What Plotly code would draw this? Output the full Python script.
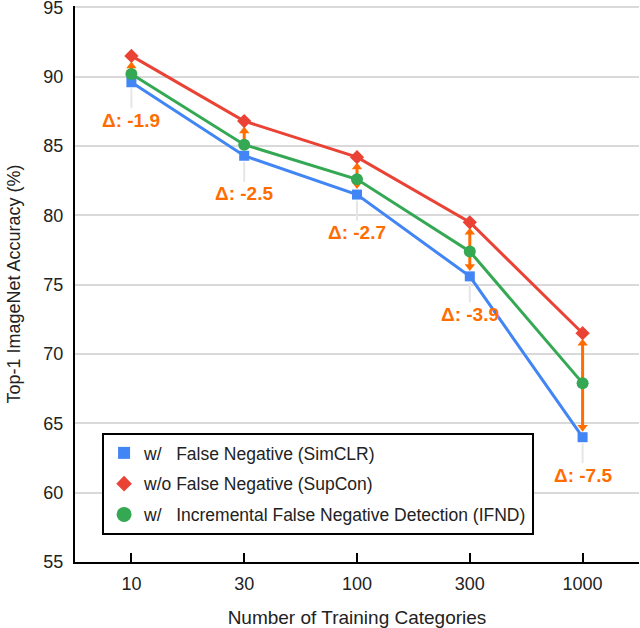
import plotly.graph_objects as go

categories = ["10", "30", "100", "300", "1000"]
simclr = [89.6, 84.3, 81.5, 75.6, 64.0]
supcon = [91.5, 86.8, 84.2, 79.5, 71.5]
ifnd = [90.2, 85.1, 82.6, 77.4, 67.9]
y_ticks = [55, 60, 65, 70, 75, 80, 85, 90, 95]

names = ["w/\u00a0\u00a0\u00a0False Negative (SimCLR)",
         "w/o False Negative (SupCon)",
         "w/\u00a0\u00a0\u00a0Incremental False Negative Detection (IFND)"]

BLUE, RED, GREEN, ORANGE = "#4285F4", "#EA4335", "#34A853", "#FF6D01"
FONT = "Arial, Liberation Sans, sans-serif"
HEAD = 0.72  # arrowhead offset from marker centre (data units)

fig = go.Figure()

# orange double arrows (drawn under the series markers)
ax_, ay_ = [], []
hx, hy, hs = [], [], []
for c, b, r in zip(categories, simclr, supcon):
    ax_ += [c, c, None]
    ay_ += [b + HEAD, r - HEAD, None]
    hx += [c, c]
    hy += [r - HEAD, b + HEAD]
    hs += ["triangle-up", "triangle-down"]
fig.add_trace(go.Scatter(x=ax_, y=ay_, mode="lines", line=dict(color=ORANGE, width=3),
                         showlegend=False, hoverinfo="skip"))
fig.add_trace(go.Scatter(x=hx, y=hy, mode="markers",
                         marker=dict(symbol=hs, size=9, color=ORANGE), showlegend=False,
                         hoverinfo="skip"))

series = [(simclr, BLUE, "square", 10, 12), (supcon, RED, "diamond", 11, 12),
          (ifnd, GREEN, "circle", 12, 15)]
for (vals, col, sym, sz, lsz), nm in zip(series, names):
    fig.add_trace(go.Scatter(x=categories, y=vals, mode="lines+markers",
                             line=dict(color=col, width=3),
                             marker=dict(symbol=sym, size=sz, color=col),
                             showlegend=False))
for k, ((vals, col, sym, sz, lsz), nm) in enumerate(zip(series, names)):
    fig.add_trace(go.Scatter(x=[None], y=[None], mode="markers", name=nm,
                             legendgroup=f"g{k}",
                             marker=dict(symbol=sym, size=lsz, color=col)))

for i, (b, r) in enumerate(zip(simclr, supcon)):
    fig.add_annotation(x=i, y=b, xref="x", yref="y", text=f"<b>Δ: {b - r:.1f}</b>",
                       showarrow=True, arrowhead=0, arrowwidth=2, arrowcolor="#e6e6e6",
                       ax=0, ay=38, standoff=6,
                       font=dict(family=FONT, size=19, color=ORANGE))

fig.update_layout(
    width=640, height=628,
    margin=dict(l=75, r=1, t=6, b=66, autoexpand=False),
    paper_bgcolor="white", plot_bgcolor="white",
    font=dict(family=FONT, size=18, color="#222222"),
    legend=dict(x=0.048, y=0.232, xanchor="left", yanchor="top",
                bgcolor="white", bordercolor="black", borderwidth=2,
                font=dict(family=FONT, size=17.5, color="#222222"),
                tracegroupgap=5),
    showlegend=True,
)
fig.update_xaxes(type="category", range=[-0.5, 4.5], categoryorder="array",
                 categoryarray=categories,
                 showline=True, linecolor="black", linewidth=2,
                 ticks="inside", ticklen=9, tickwidth=2, tickcolor="black",
                 showgrid=False, zeroline=False,
                 title=dict(text="Number of Training Categories", standoff=18,
                            font=dict(size=19)),
                 tickfont=dict(size=18), ticklabelstandoff=4)
fig.update_yaxes(range=[55, 95.1], tickvals=y_ticks,
                 showline=True, linecolor="black", linewidth=2,
                 showgrid=True, gridcolor="#d9d9d9", gridwidth=1.5, zeroline=False,
                 title=dict(text="Top-1 ImageNet Accuracy (%)", standoff=18,
                            font=dict(size=18)),
                 tickfont=dict(size=18), ticklabelstandoff=6,
                 ticklabeloverflow="allow")

fig.write_html("out.html", config={"displayModeBar": False},
               post_script="document.body.style.margin='0';")
